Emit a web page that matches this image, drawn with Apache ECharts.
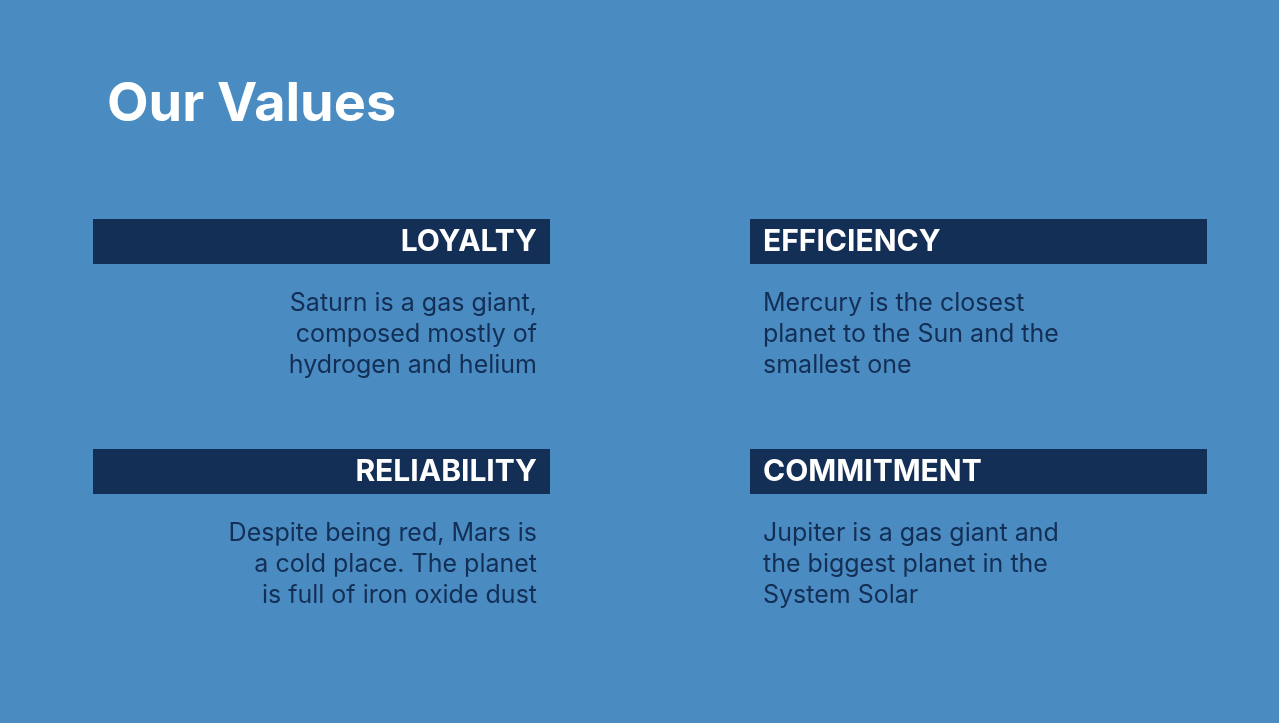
<!DOCTYPE html>
<html>
<head>
<meta charset="utf-8">
<script src="https://cdn.jsdelivr.net/npm/echarts@6/dist/echarts.min.js"></script>
<style>
  html, body { margin: 0; padding: 0; background: #4a8bc2; }
  #main { width: 1279px; height: 723px; }
</style>
</head>
<body>
<div id="main"></div>
<script>
var chartDom = document.getElementById('main');
var myChart = echarts.init(chartDom);

const pageTitle = 'Our Values';
const headings = ['LOYALTY', 'EFFICIENCY', 'RELIABILITY', 'COMMITMENT'];
const bodies = [
  'Saturn is a gas giant,\ncomposed mostly of\nhydrogen and helium',
  'Mercury is the closest\nplanet to the Sun and the\nsmallest one',
  'Despite being red, Mars is\na cold place. The planet\nis full of iron oxide dust',
  'Jupiter is a gas giant and\nthe biggest planet in the\nSystem Solar'
];

const dark = '#132f55';
const font = 'Inter, "Open Sans", sans-serif';

var elements = [
  {
    type: 'text',
    left: 107,
    top: 78,
    style: { text: pageTitle, fill: '#fff', font: 'bold 54px ' + font }
  }
];

headings.forEach(function (h, i) {
  var col = i % 2;
  var row = Math.floor(i / 2);
  var bx = col === 0 ? 93 : 750;
  var by = row === 0 ? 219 : 449;
  var leftCol = col === 0;
  elements.push({
    type: 'rect',
    shape: { x: bx, y: by, width: 457, height: 45 },
    style: { fill: dark }
  });
  elements.push({
    type: 'text',
    x: leftCol ? 537 : 763,
    y: by + 23,
    style: {
      text: h,
      fill: '#fff',
      font: 'bold 30px ' + font,
      align: leftCol ? 'right' : 'left',
      verticalAlign: 'middle'
    }
  });
  elements.push({
    type: 'text',
    x: leftCol ? 537 : 763,
    y: by + 69,
    style: {
      text: bodies[i],
      fill: dark,
      font: '25px ' + font,
      lineHeight: 31,
      align: leftCol ? 'right' : 'left',
      verticalAlign: 'top'
    }
  });
});

var option = {
  backgroundColor: '#4a8bc2',
  graphic: { elements: elements }
};

option && myChart.setOption(option);
</script>
</body>
</html>
